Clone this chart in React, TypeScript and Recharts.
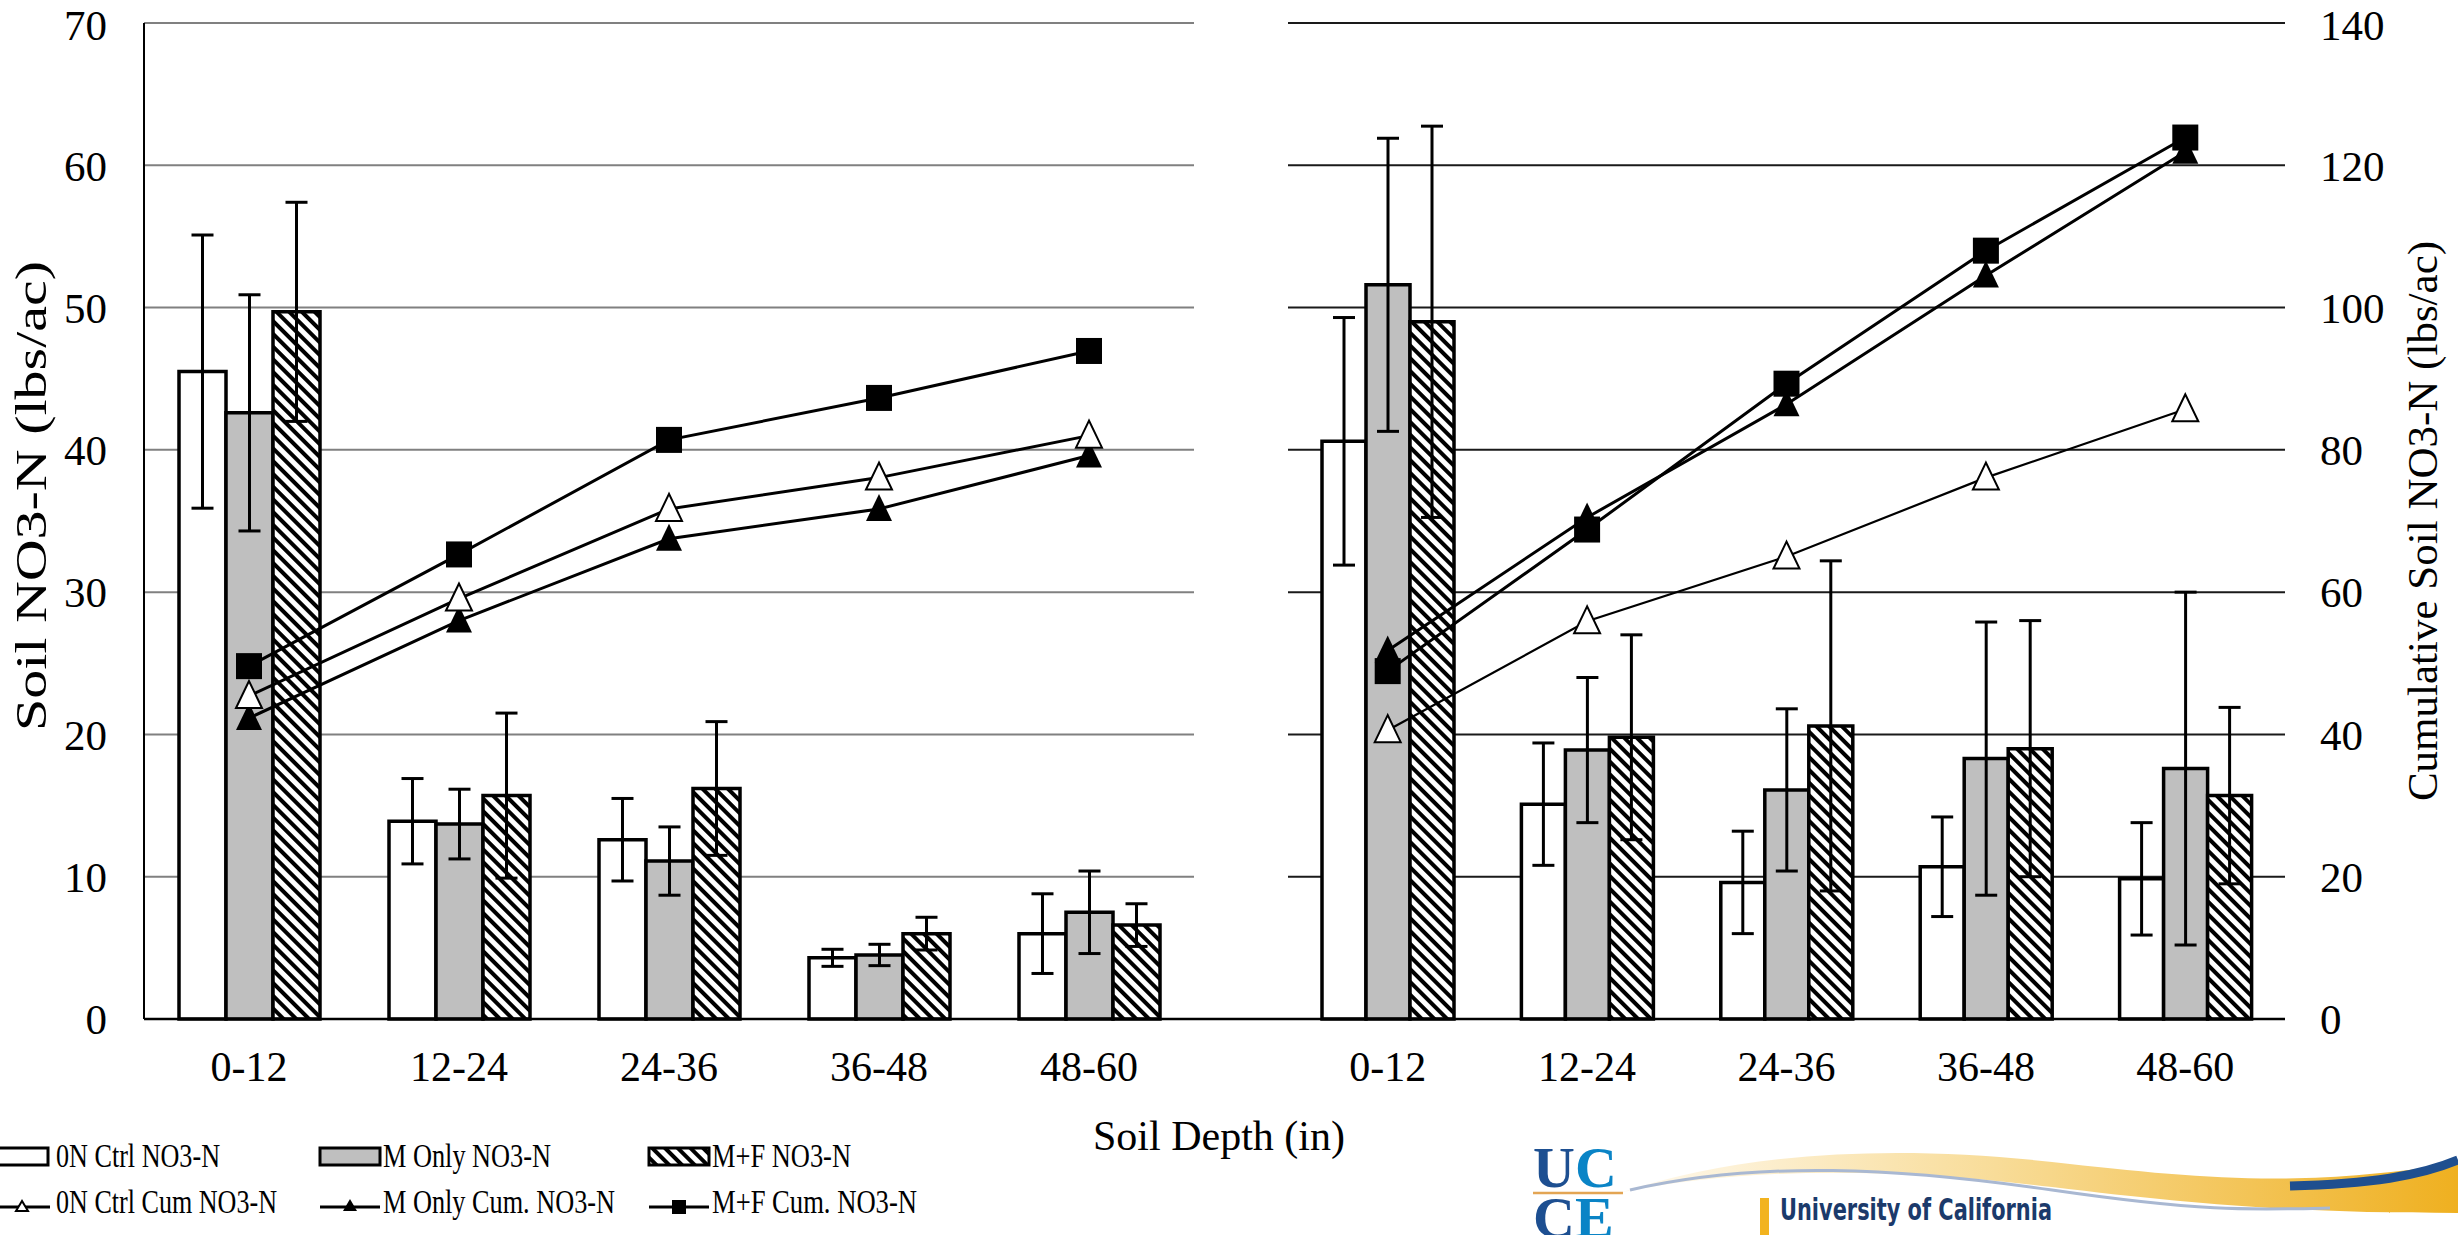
import { ComposedChart, Bar, Line, XAxis, YAxis, CartesianGrid, ErrorBar, Legend } from 'recharts';

const depths = ['0-12', '12-24', '24-36', '36-48', '48-60'];
const barTicks = [0, 10, 20, 30, 40, 50, 60, 70];
const cumTicks = [0, 20, 40, 60, 80, 100, 120, 140];

// left panel - bars read on the 0-70 axis
const leftCtrl = [45.5, 13.9, 12.6, 4.3, 6.0];
const leftCtrlErr = [9.6, 3.0, 2.9, 0.6, 2.8];
const leftMOnly = [42.6, 13.7, 11.1, 4.5, 7.5];
const leftMOnlyErr = [8.3, 2.45, 2.4, 0.75, 2.9];
const leftMF = [49.7, 15.7, 16.2, 6.0, 6.6];
const leftMFErr = [7.7, 5.8, 4.7, 1.15, 1.5];
// left panel - cumulative lines on the hidden 0-140 axis
const leftCtrlCum = [45.4, 59.1, 71.7, 76.1, 82.0];
const leftMOnlyCum = [42.3, 56.0, 67.5, 71.7, 79.2];
const leftMFCum = [49.6, 65.3, 81.4, 87.3, 93.9];

// right panel
const rightCtrl = [40.6, 15.1, 9.6, 10.7, 9.85];
const rightCtrlErr = [8.7, 4.3, 3.6, 3.5, 3.95];
const rightMOnly = [51.6, 18.9, 16.1, 18.3, 17.6];
const rightMOnlyErr = [10.3, 5.1, 5.7, 9.6, 12.4];
const rightMF = [49.0, 19.8, 20.6, 19.0, 15.7];
const rightMFErr = [13.75, 7.2, 11.6, 9.0, 6.2];
const rightCtrlCum = [40.6, 55.9, 65.0, 76.1, 85.7];
const rightMOnlyCum = [51.8, 70.5, 86.4, 104.5, 121.9];
const rightMFCum = [48.9, 68.8, 89.3, 108.0, 123.9];

const barLabels = ['0N Ctrl NO3-N', 'M Only NO3-N', 'M+F NO3-N'];
const lineLabels = ['0N Ctrl Cum NO3-N', 'M Only Cum. NO3-N', 'M+F Cum. NO3-N'];

function buildRows(
  ctrl: number[], ctrlErr: number[], mOnly: number[], mOnlyErr: number[], mf: number[], mfErr: number[],
  ctrlCum: number[], mOnlyCum: number[], mfCum: number[],
) {
  return depths.map((depth, i) => ({
    depth,
    ctrl: ctrl[i], ctrlErr: ctrlErr[i],
    mOnly: mOnly[i], mOnlyErr: mOnlyErr[i],
    mf: mf[i], mfErr: mfErr[i],
    ctrlCum: ctrlCum[i], mOnlyCum: mOnlyCum[i], mfCum: mfCum[i],
  }));
}

const leftData = buildRows(leftCtrl, leftCtrlErr, leftMOnly, leftMOnlyErr, leftMF, leftMFErr, leftCtrlCum, leftMOnlyCum, leftMFCum);
const rightData = buildRows(rightCtrl, rightCtrlErr, rightMOnly, rightMOnlyErr, rightMF, rightMFErr, rightCtrlCum, rightMOnlyCum, rightMFCum);

const GRAY = '#bfbfbf';
const SERIF = 'Liberation Serif';

const squareDot = (p: any) => {
  if (p.cx == null || p.cy == null) return <g />;
  return <rect x={p.cx - 13} y={p.cy - 13} width={26} height={26} fill="#000" />;
};
const filledTriangle = (p: any) => {
  if (p.cx == null || p.cy == null) return <g />;
  return <polygon points={`${p.cx},${p.cy - 15} ${p.cx - 13},${p.cy + 12} ${p.cx + 13},${p.cy + 12}`} fill="#000" />;
};
const openTriangle = (p: any) => {
  if (p.cx == null || p.cy == null) return <g />;
  return (
    <polygon
      points={`${p.cx},${p.cy - 15} ${p.cx - 13},${p.cy + 12} ${p.cx + 13},${p.cy + 12}`}
      fill="#fff"
      stroke="#000"
      strokeWidth={2}
    />
  );
};

const leftTitle = ({ viewBox }: any) => {
  const x = viewBox.x + 31;
  const y = viewBox.y + viewBox.height / 2 - 25;
  return (
    <text x={x} y={y} transform={`rotate(-90 ${x} ${y})`} textAnchor="middle" dominantBaseline="central"
      fontSize={44} fill="#000" fontFamily={SERIF} textLength={470} lengthAdjust="spacingAndGlyphs">
      Soil NO3-N (lbs/ac)
    </text>
  );
};

const rightTitle = ({ viewBox }: any) => {
  const x = viewBox.x + 137;
  const y = viewBox.y + viewBox.height / 2;
  return (
    <text x={x} y={y} transform={`rotate(-90 ${x} ${y})`} textAnchor="middle" dominantBaseline="central"
      fontSize={43} fill="#000" fontFamily={SERIF}>
      Cumulative Soil NO3-N (lbs/ac)
    </text>
  );
};

const legendColX = [0, 320, 649];
const legendTextX = [56, 383, 712];
const barTextLen = [164, 168, 139];
const lineTextLen = [221, 232, 205];

function LegendBox() {
  const markers = [
    (x: number) => <polygon points={`${x},${66} ${x - 6},${76} ${x + 6},${76}`} fill="#fff" stroke="#000" strokeWidth={2} />,
    (x: number) => <polygon points={`${x},${64} ${x - 7},${76} ${x + 7},${76}`} fill="#000" />,
    (x: number) => <rect x={x - 7} y={65} width={14} height={14} fill="#000" />,
  ];
  const fills = ['#fff', GRAY, 'url(#legendHatch)'];
  return (
    <svg width={960} height={100}>
      <defs>
        <pattern id="legendHatch" patternUnits="userSpaceOnUse" width={9} height={9} patternTransform="rotate(-45)">
          <rect width={9} height={9} fill="#fff" />
          <rect width={4} height={9} fill="#000" />
        </pattern>
      </defs>
      {barLabels.map((label, i) => (
        <g key={label}>
          <rect x={i === 0 ? -10 : legendColX[i]} y={13} width={i === 0 ? 58 : 60} height={17}
            fill={fills[i]} stroke="#000" strokeWidth={3} />
          <text x={legendTextX[i]} y={32} fontSize={33} fill="#000" fontFamily={SERIF}
            textLength={barTextLen[i]} lengthAdjust="spacingAndGlyphs">
            {label}
          </text>
        </g>
      ))}
      {lineLabels.map((label, i) => (
        <g key={label}>
          <line x1={legendColX[i]} x2={legendColX[i] + (i === 0 ? 50 : 60)} y1={72} y2={72} stroke="#000" strokeWidth={3} />
          {markers[i](legendColX[i] + (i === 0 ? 22 : 30))}
          <text x={legendTextX[i]} y={78} fontSize={33} fill="#000" fontFamily={SERIF}
            textLength={lineTextLen[i]} lengthAdjust="spacingAndGlyphs">
            {label}
          </text>
        </g>
      ))}
    </svg>
  );
}

interface PanelProps {
  data: ReturnType<typeof buildRows>;
  side: 'left' | 'right';
  width: number;
  hatchId: string;
}

function Panel({ data, side, width, hatchId }: PanelProps) {
  const isLeft = side === 'left';
  const barSize = isLeft ? 47 : 44;
  const tickStyle = { fill: '#000', fontSize: 43, fontFamily: SERIF };
  return (
    <ComposedChart
      width={width}
      height={1235}
      data={data}
      barGap={0}
      margin={isLeft ? { top: 23, right: 46, left: 0, bottom: 136 } : { top: 23, right: 0, left: 48, bottom: 136 }}
    >
      <defs>
        <pattern id={hatchId} patternUnits="userSpaceOnUse" width={9} height={9} patternTransform="rotate(-45)">
          <rect width={9} height={9} fill="#fff" />
          <rect width={4} height={9} fill="#000" />
        </pattern>
      </defs>
      <CartesianGrid yAxisId="bars" vertical={false} stroke={isLeft ? '#808080' : '#1a1a1a'} strokeWidth={2} />
      <XAxis
        dataKey="depth"
        height={80}
        tickSize={0}
        tickMargin={32}
        tickLine={false}
        tick={{ fill: '#000', fontSize: 42, fontFamily: SERIF }}
        axisLine={{ stroke: '#000', strokeWidth: 2.5 }}
      />
      <YAxis
        yAxisId="bars"
        domain={[0, 70]}
        ticks={barTicks}
        hide={!isLeft}
        width={144}
        tickSize={0}
        tickMargin={37}
        tickLine={false}
        tick={tickStyle}
        axisLine={{ stroke: '#000', strokeWidth: 2 }}
        label={leftTitle}
      />
      <YAxis
        yAxisId="cum"
        orientation="right"
        domain={[0, 140]}
        ticks={cumTicks}
        hide={isLeft}
        width={173}
        tickSize={0}
        tickMargin={35}
        tickLine={false}
        tick={tickStyle}
        axisLine={false}
        label={rightTitle}
      />
      <Bar yAxisId="bars" dataKey="ctrl" barSize={barSize} fill="#fff" stroke="#000" strokeWidth={3.5} isAnimationActive={false}>
        <ErrorBar dataKey="ctrlErr" width={11} strokeWidth={3} stroke="#000" isAnimationActive={false} />
      </Bar>
      <Bar yAxisId="bars" dataKey="mOnly" barSize={barSize} fill={GRAY} stroke="#000" strokeWidth={3.5} isAnimationActive={false}>
        <ErrorBar dataKey="mOnlyErr" width={11} strokeWidth={3} stroke="#000" isAnimationActive={false} />
      </Bar>
      <Bar yAxisId="bars" dataKey="mf" barSize={barSize} fill={`url(#${hatchId})`} stroke="#000" strokeWidth={3.5} isAnimationActive={false}>
        <ErrorBar dataKey="mfErr" width={11} strokeWidth={3} stroke="#000" isAnimationActive={false} />
      </Bar>
      <Line yAxisId="cum" dataKey="mfCum" stroke="#000" strokeWidth={3} dot={squareDot} activeDot={false} isAnimationActive={false} />
      <Line yAxisId="cum" dataKey="mOnlyCum" stroke="#000" strokeWidth={3} dot={filledTriangle} activeDot={false} isAnimationActive={false} />
      <Line yAxisId="cum" dataKey="ctrlCum" stroke="#000" strokeWidth={isLeft ? 3 : 2.2} dot={openTriangle} activeDot={false} isAnimationActive={false} />
      {isLeft && (
        <Legend
          layout="vertical"
          align="center"
          verticalAlign="middle"
          content={() => <LegendBox />}
          wrapperStyle={{ left: 0, top: 1135, width: 960, height: 100 }}
        />
      )}
    </ComposedChart>
  );
}

export default function App() {
  return (
    <div
      style={{
        position: 'absolute',
        left: 0,
        top: 0,
        width: 2458,
        height: 1235,
        background: '#fff',
        overflow: 'hidden',
        fontFamily: SERIF,
      }}
    >
      <div style={{ position: 'absolute', left: 0, top: 0 }}>
        <Panel data={leftData} side="left" width={1240} hatchId="hatchLeft" />
      </div>
      <div style={{ position: 'absolute', left: 1240, top: 0 }}>
        <Panel data={rightData} side="right" width={1218} hatchId="hatchRight" />
      </div>
      <svg width={2458} height={1235} style={{ position: 'absolute', left: 0, top: 0, pointerEvents: 'none' }}>
        <defs>
          <linearGradient id="swoosh" x1="0" y1="0" x2="1" y2="0">
            <stop offset="0%" stopColor="#fffaf0" />
            <stop offset="45%" stopColor="#f8dc98" />
            <stop offset="100%" stopColor="#efb020" />
          </linearGradient>
        </defs>
        <line x1={1194} x2={1288} y1={1019} y2={1019} stroke="#000" strokeWidth={2.5} />
        <text x={1219} y={1150} textAnchor="middle" fontSize={42} fill="#000" fontFamily={SERIF}>Soil Depth (in)</text>
        {/* UCCE logo */}
        <path
          d="M1619,1193 C1750,1150 1900,1145 2052,1162 S2300,1188 2458,1163 L2458,1213 C2300,1213 2200,1205 2052,1187 S1750,1165 1619,1193 Z"
          fill="url(#swoosh)"
        />
        <path d="M1630,1190 C1760,1160 1900,1168 2052,1190 S2250,1210 2330,1208" fill="none" stroke="#a9b8d2" strokeWidth={3} />
        <path d="M2290,1186 C2370,1184 2420,1176 2458,1160" fill="none" stroke="#1f4f8f" strokeWidth={9} />
        <text x={1533} y={1187} fontSize={58} fontWeight="bold" fill="#1d4f91" fontFamily={SERIF}>
          U<tspan fill="#0a84c6">C</tspan>
        </text>
        <line x1={1533} x2={1623} y1={1193} y2={1193} stroke="#e3a553" strokeWidth={2.5} />
        <text x={1533} y={1237} fontSize={58} fontWeight="bold" fill="#1d4f91" fontFamily={SERIF}>
          C<tspan fill="#0a84c6">E</tspan>
        </text>
        <rect x={1760} y={1198} width={9} height={37} fill="#f2b31f" />
        <text x={1780} y={1220} fontSize={30} fontWeight="bold" fill="#1b3a6b"
          fontFamily="DejaVu Sans Condensed, Liberation Sans Narrow, Roboto, sans-serif"
          textLength={272} lengthAdjust="spacingAndGlyphs">
          University of California
        </text>
      </svg>
    </div>
  );
}
